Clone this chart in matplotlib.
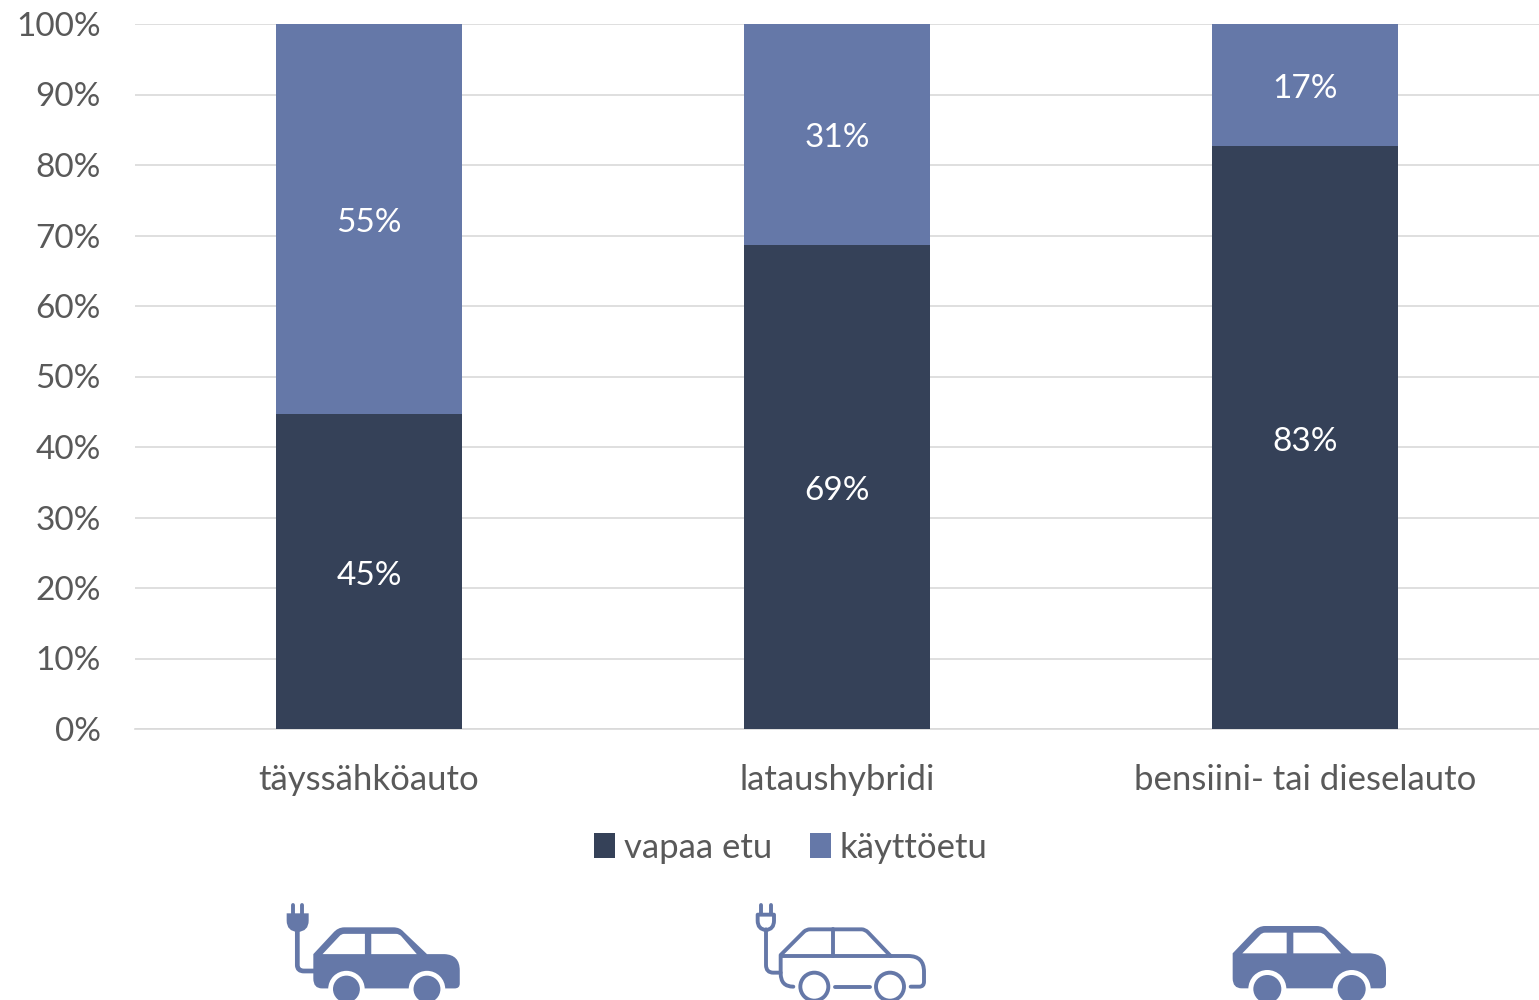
import matplotlib
matplotlib.use("Agg")
import matplotlib.pyplot as plt
from matplotlib.path import Path
from matplotlib.patches import PathPatch, Circle
from matplotlib.ticker import FuncFormatter, MultipleLocator

categories = ["täyssähköauto", "lataushybridi", "bensiini- tai dieselauto"]
vapaa_etu = [44.7, 68.7, 82.7]
kayttoetu = [55.3, 31.3, 17.3]
series_names = ["vapaa etu", "käyttöetu"]

DARK = "#354158"
LIGHT = "#6578A8"
GRID = "#D9D9D9"
TXT = "#595959"
FS = 24
FS2 = 25

plt.rcParams["font.family"] = ["Lato", "DejaVu Sans"]
W, H = 1539, 1000
fig = plt.figure(figsize=(W / 100, H / 100), dpi=100)
ax = fig.add_axes([135 / W, 1 - 729 / H, 1404 / W, 705 / H])

x = list(range(len(categories)))
b1 = ax.bar(x, vapaa_etu, width=0.3985, color=DARK, label=series_names[0], zorder=3)
b2 = ax.bar(x, kayttoetu, width=0.3985, bottom=vapaa_etu, color=LIGHT, label=series_names[1], zorder=3)
for bars, vals in ((b1, vapaa_etu), (b2, kayttoetu)):
    texts = ax.bar_label(bars, labels=[f"{round(v)}%" for v in vals], label_type="center",
                         color="white", fontsize=FS, zorder=4)
    for t in texts:
        t.xyann = (0, -3)

ax.set_xlim(-0.5, 2.5)
ax.set_ylim(0, 100)
ax.yaxis.set_major_locator(MultipleLocator(10))
ax.yaxis.set_major_formatter(FuncFormatter(lambda v, _: f"{v:.0f}%"))
ax.set_xticks(x, categories)
ax.grid(axis="y", color=GRID, lw=1.2, zorder=0)
ax.set_axisbelow(True)
for s in ("top", "right", "left"):
    ax.spines[s].set_visible(False)
ax.spines["bottom"].set_color(GRID)
ax.spines["bottom"].set_linewidth(1.2)
ax.tick_params(axis="both", length=0, labelcolor=TXT)
ax.tick_params(axis="y", pad=24.5, labelsize=FS)
ax.tick_params(axis="x", pad=25, labelsize=FS2)

fig.legend(loc="center", bbox_to_anchor=(791 / W, 1 - 848 / H), ncol=2, frameon=False,
           fontsize=FS2, labelcolor=TXT, handlelength=0.6, handleheight=0.72,
           handletextpad=0.27, columnspacing=1.07, borderpad=0, borderaxespad=0)

# Pictograms in a pixel-coordinate overlay
ov = fig.add_axes([0, 0, 1, 1], facecolor="none")
ov.set_xlim(0, W)
ov.set_ylim(H, 0)
ov.axis("off")

M, L, C, Z = Path.MOVETO, Path.LINETO, Path.CURVE3, Path.CLOSEPOLY


def path(f, seq):
    v, c = [], []
    for code, *pts in seq:
        for p in pts:
            v.append(f(p))
        if code == "M":
            c += [M]
        elif code == "L":
            c += [L]
        elif code == "Q":
            c += [C, C]
        elif code == "Z":
            v.append((0, 0))
            c += [Z]
    return Path(v, c)


def solid_car(f, s):
    body = [("M", (68, 190)), ("L", (130, 125)), ("Q", (145, 108), (165, 108)),
            ("L", (320, 108)), ("Q", (340, 108), (352, 122)), ("L", (425, 190)),
            ("L", (480, 190)), ("Q", (528, 192), (528, 240)), ("L", (528, 280)),
            ("Q", (528, 295), (512, 295)), ("L", (95, 295)), ("Q", (68, 295), (68, 265)), ("Z",)]
    ov.add_patch(PathPatch(path(f, body), fc=LIGHT, ec="none"))
    for seq in ([("M", (97, 190)), ("L", (150, 135)), ("Q", (156, 128), (165, 128)),
                 ("L", (230, 128)), ("L", (230, 190)), ("Z",)],
                [("M", (250, 190)), ("L", (250, 128)), ("L", (328, 128)),
                 ("Q", (338, 128), (345, 136)), ("L", (393, 190)), ("Z",)]):
        ov.add_patch(PathPatch(path(f, seq), fc="white", ec="none"))
    for cx in (172, 425):
        ov.add_patch(Circle(f((cx, 297)), 57 * s / 3, fc="white", ec="none"))
        ov.add_patch(Circle(f((cx, 297)), 42 * s / 3, fc=LIGHT, ec="none"))


def stroke(f, seq, lw):
    ov.add_patch(PathPatch(path(f, seq), fc="none", ec=LIGHT, lw=lw, capstyle="round", joinstyle="round"))


def zoomed(ox, oy):
    return lambda p: (ox + p[0] / 3, oy + p[1] / 3)


# Car 1: solid with plug
f1 = zoomed(260, 890)
solid_car(lambda p: (260 + (160 + (p[0] - 68) * 0.955) / 3, 890 + (112 + (p[1] - 108) * 0.98) / 3), 0.96)
stroke(f1, [("M", (112, 118)), ("L", (112, 225)), ("Q", (112, 243), (132, 243)), ("L", (165, 243))], 3.4)
ov.add_patch(PathPatch(path(f1, [("M", (80, 70)), ("L", (146, 70)), ("L", (146, 92)),
                                 ("Q", (146, 124), (113, 126)), ("Q", (80, 124), (80, 92)), ("Z",)]),
                       fc=LIGHT, ec="none"))
stroke(f1, [("M", (98, 46)), ("L", (98, 72))], 2.8)
stroke(f1, [("M", (127, 46)), ("L", (127, 72))], 2.8)

# Car 2: outline with plug
f2 = zoomed(730, 890)
LW = 2.8
stroke(f2, [("M", (190, 290)), ("Q", (152, 290), (152, 250)), ("L", (152, 195)), ("L", (222, 125)),
            ("Q", (230, 118), (240, 118)), ("L", (395, 118)), ("Q", (405, 118), (414, 127)),
            ("L", (482, 198)), ("L", (535, 198)), ("Q", (582, 198), (582, 245)), ("L", (582, 275)),
            ("Q", (582, 290), (568, 290)), ("L", (542, 290))], LW)
stroke(f2, [("M", (152, 198)), ("L", (482, 198))], LW)
stroke(f2, [("M", (310, 118)), ("L", (310, 198))], LW)
stroke(f2, [("M", (315, 290)), ("L", (420, 290))], LW)
for cx in (253, 480):
    ov.add_patch(Circle(f2((cx, 290)), 42 / 3, fc="none", ec=LIGHT, lw=LW))
stroke(f2, [("M", (108, 118)), ("L", (108, 225)), ("Q", (108, 248), (130, 248)), ("L", (152, 248))], LW)
stroke(f2, [("M", (83, 74)), ("L", (132, 74)), ("L", (132, 92)), ("Q", (132, 118), (108, 120)),
            ("Q", (83, 118), (83, 92)), ("Z",)], LW)
stroke(f2, [("M", (93, 45)), ("L", (93, 72))], LW)
stroke(f2, [("M", (122, 45)), ("L", (122, 72))], LW)

# Car 3: solid
solid_car(zoomed(1210, 890), 1.0)

fig.savefig("out.png", dpi=100)
